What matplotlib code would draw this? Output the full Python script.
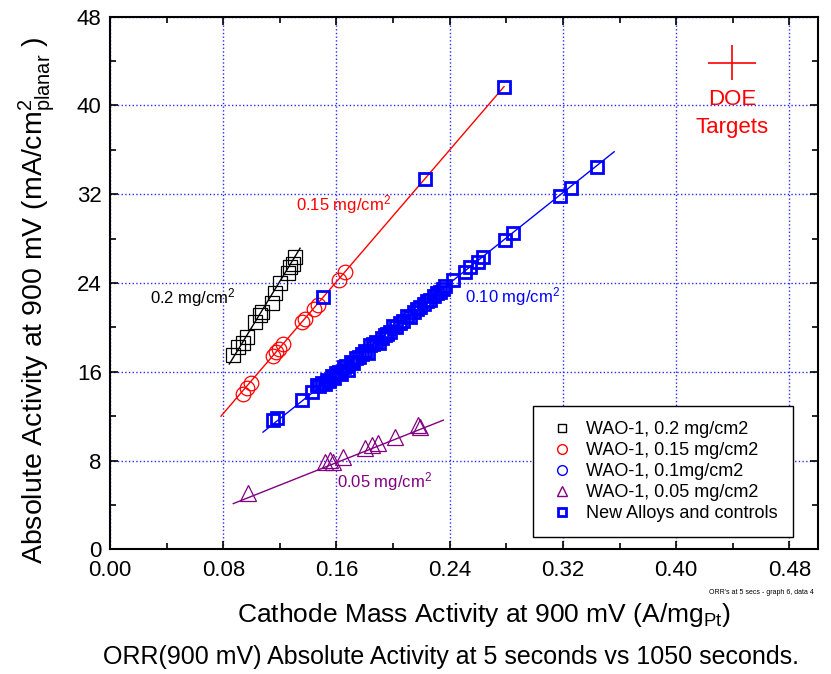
"""
ORR-Aktivität: absolute Aktivität gegen Massenaktivität bei 900 mV
"""

import matplotlib
matplotlib.use('Agg')
import matplotlib.pyplot as plt
from matplotlib.lines import Line2D
from matplotlib.ticker import MultipleLocator

plt.rcParams['font.family'] = ['Liberation Sans', 'DejaVu Sans']
plt.rcParams['mathtext.fontset'] = 'custom'
plt.rcParams['mathtext.rm'] = 'Liberation Sans'
plt.rcParams['mathtext.it'] = 'Liberation Sans:italic'

# WAO-1, 0.2 mg/cm2
x_02 = [0.0869, 0.0905, 0.0940, 0.0968, 0.1025, 0.1060, 0.1074, 0.1145,
        0.1166, 0.1201, 0.1258, 0.1272, 0.1295, 0.1307]
y_02 = [17.5, 18.2, 18.6, 19.1, 20.5, 21.1, 21.4, 22.2,
        23.1, 24.0, 24.9, 25.4, 25.7, 26.35]
fit_x_02 = [0.0843, 0.1343]
fit_y_02 = [16.7, 27.14]

# WAO-1, 0.15 mg/cm2
x_015 = [0.0940, 0.0968, 0.0996, 0.1152, 0.1173, 0.1194, 0.1223,
         0.1357, 0.1378, 0.1442, 0.1470, 0.1618, 0.1661]
y_015 = [14.0, 14.5, 15.0, 17.4, 17.8, 18.05, 18.5,
         20.5, 20.75, 21.65, 22.0, 24.3, 25.0]
fit_x_015 = [0.0784, 0.2784]
fit_y_015 = [12.0, 41.7]

# WAO-1, 0.1 mg/cm2
x_01 = [0.156, 0.171, 0.185, 0.199, 0.213, 0.228]
y_01 = [15.3, 16.9, 18.3, 19.8, 21.2, 22.7]
fit_x_01 = [0.1081, 0.3562]
fit_y_01 = [10.56, 35.83]

# WAO-1, 0.05 mg/cm2
x_005 = [0.0977, 0.1519, 0.1555, 0.1578, 0.1649, 0.1802, 0.1849,
         0.1896, 0.2014, 0.2191, 0.2179]
y_005 = [5.03, 7.88, 8.03, 7.88, 8.33, 9.09, 9.39,
         9.54, 10.14, 11.04, 11.19]
fit_x_005 = [0.0871, 0.2355]
fit_y_005 = [4.12, 11.64]

# Neue Legierungen und Kontrollen
x_neu = [0.2784, 0.2226, 0.1505, 0.3442, 0.3258, 0.3180, 0.2848, 0.2792,
         0.2636, 0.2600, 0.2544, 0.2509, 0.2424, 0.1180, 0.1152, 0.1357,
         0.1428, 0.1463,
         0.148, 0.150, 0.152, 0.153, 0.155, 0.157, 0.158, 0.160, 0.162,
         0.163, 0.165, 0.167, 0.168, 0.170, 0.172, 0.174, 0.176, 0.178,
         0.180, 0.182, 0.184, 0.186, 0.188, 0.190, 0.192, 0.194, 0.196,
         0.198, 0.200, 0.202, 0.205, 0.207, 0.210, 0.212, 0.215, 0.217,
         0.219, 0.222, 0.224, 0.226, 0.229, 0.231, 0.233, 0.235, 0.237]
y_neu = [41.7, 33.4, 22.7, 34.5, 32.6, 31.8, 28.5, 27.9,
         26.35, 25.9, 25.45, 25.0, 24.3, 11.8, 11.65, 13.45,
         14.2, 14.8,
         14.7, 15.0, 14.9, 15.3, 15.2, 15.6, 15.4, 15.9, 16.0,
         15.8, 16.4, 16.5, 16.2, 16.9, 16.8, 17.2, 17.3, 17.6,
         17.9, 17.7, 18.4, 18.5, 18.7, 18.6, 19.0, 19.3, 19.4,
         19.6, 20.1, 20.0, 20.4, 20.6, 21.0, 20.9, 21.4, 21.7,
         21.8, 22.1, 22.4, 22.5, 22.8, 23.1, 23.2, 23.5, 23.7]

# DOE-Zielwert
doe_x = 0.4396
doe_y = 43.86
doe_xerr = 0.017
doe_yerr = 1.6

lila = '#800080'
blau = '#0000ff'

fig = plt.figure(figsize=(8.31, 6.74), dpi=100)
ax = fig.add_axes([0.1324, 0.185, 0.8516, 0.7902])

# Ausgleichsgeraden
ax.plot(fit_x_02, fit_y_02, color='black', linewidth=1)
ax.plot(fit_x_015, fit_y_015, color='red', linewidth=1)
ax.plot(fit_x_01, fit_y_01, color=blau, linewidth=1)
ax.plot(fit_x_005, fit_y_005, color=lila, linewidth=1)

# Messpunkte
ax.plot(x_02, y_02, 's', mfc='none', mec='black', ms=10, mew=0.9)
ax.plot(x_015, y_015, 'o', mfc='none', mec='red', ms=10.5, mew=0.9)
ax.plot(x_01, y_01, 'o', mfc='none', mec=blau, ms=8, mew=0.9)
ax.plot(x_005, y_005, '^', mfc='none', mec=lila, ms=11, mew=0.9)
ax.plot(x_neu, y_neu, 's', mfc='none', mec=blau, ms=8, mew=2)

# DOE-Ziel als Kreuz
ax.errorbar(doe_x, doe_y, xerr=doe_xerr, yerr=doe_yerr, fmt='none',
            ecolor='red', elinewidth=1.2, capsize=0)
ax.text(doe_x, 40.5, 'DOE', color='red', fontsize=16,
        ha='center', va='center')
ax.text(doe_x, 38.05, 'Targets', color='red', fontsize=16,
        ha='center', va='center')

# Beschriftungen an den Geraden
ax.text(0.0283, 22.65, r'0.2 mg/cm$\mathregular{^2}$', color='black',
        fontsize=12, va='center')
ax.text(0.1314, 31.05, r'0.15 mg/cm$\mathregular{^2}$', color='red',
        fontsize=12, va='center')
ax.text(0.2509, 22.8, r'0.10 mg/cm$\mathregular{^2}$', color=blau,
        fontsize=12, va='center')
ax.text(0.1604, 6.14, r'0.05 mg/cm$\mathregular{^2}$', color=lila,
        fontsize=12, va='center')

# Achsen
ax.set_xlim(0, 0.5)
ax.set_ylim(0, 48)
ax.xaxis.set_major_locator(MultipleLocator(0.08))
ax.xaxis.set_minor_locator(MultipleLocator(0.04))
ax.yaxis.set_major_locator(MultipleLocator(8))
ax.yaxis.set_minor_locator(MultipleLocator(4))
ax.xaxis.set_major_formatter(plt.FuncFormatter(lambda v, p: f'{v:.2f}'))
ax.tick_params(which='both', direction='in', top=True, right=True,
               labelsize=16, width=1.2)
ax.tick_params(which='major', length=6)
ax.tick_params(axis='x', which='major', pad=8)
ax.tick_params(axis='y', which='major', pad=6)
ax.tick_params(which='minor', length=4)
for spine in ax.spines.values():
    spine.set_linewidth(1.5)

# Gitternetz
ax.grid(True, which='major', color='#2a2aff', linestyle=':', linewidth=1)
ax.set_axisbelow(True)

# Legende
handles = [
    Line2D([], [], linestyle='none', marker='s', mfc='none', mec='black', ms=6, mew=1),
    Line2D([], [], linestyle='none', marker='o', mfc='none', mec='red', ms=7, mew=1),
    Line2D([], [], linestyle='none', marker='o', mfc='none', mec=blau, ms=7, mew=1),
    Line2D([], [], linestyle='none', marker='^', mfc='none', mec=lila, ms=7, mew=1),
    Line2D([], [], linestyle='none', marker='s', mfc='none', mec=blau, ms=5.5, mew=2),
]
labels = ['WAO-1, 0.2 mg/cm2', 'WAO-1, 0.15 mg/cm2', 'WAO-1, 0.1mg/cm2',
          'WAO-1, 0.05 mg/cm2', 'New Alloys and controls']
leg = ax.legend(handles, labels, loc='lower right',
                bbox_to_anchor=(0.965, 0.0225), borderaxespad=0,
                fontsize=13, frameon=True, fancybox=False,
                edgecolor='black', framealpha=1, labelspacing=0.22,
                handletextpad=0.55, handlelength=1.55, borderpad=0.85)
leg.get_frame().set_linewidth(1)

# Achsentitel und Untertitel
fig.text(484 / 831, 1 - 615 / 674,
         r'Cathode Mass Activity at 900 mV (A/mg$\mathregular{_{Pt}}$)',
         ha='center', va='center', fontsize=19)
fig.text(37 / 831, 1 - 300 / 674,
         r'Absolute Activity at 900 mV (mA/cm$\mathregular{^2_{planar}}$ )',
         ha='center', va='center', rotation=90, fontsize=20.5)
fig.text(451 / 831, 1 - 657 / 674,
         'ORR(900 mV) Absolute Activity at 5 seconds vs 1050 seconds.',
         ha='center', va='center', fontsize=18)
fig.text(814 / 831, 1 - 592 / 674, "ORR's at 5 secs - graph 6, data 4",
         ha='right', va='center', fontsize=5)

fig.savefig('out.png', dpi=100)
